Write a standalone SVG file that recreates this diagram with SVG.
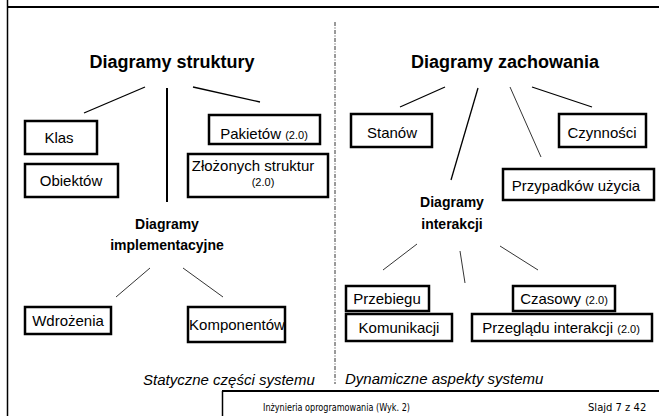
<svg xmlns="http://www.w3.org/2000/svg" width="659" height="416" viewBox="0 0 659 416">
<style>
.box{fill:#fff;stroke:#000;stroke-width:2.5}
.ln{stroke:#000;stroke-width:1.3;fill:none}
.thin{stroke:#000;stroke-width:0.8;fill:none}
.t{font-family:"Liberation Sans",Arial,sans-serif;font-size:15px;fill:#000;text-anchor:middle}
.s{font-size:11px}
.h{font-family:"Liberation Sans",Arial,sans-serif;font-size:18px;font-weight:bold;fill:#000;text-anchor:middle}
.hb{font-family:"Liberation Sans",Arial,sans-serif;font-size:14px;font-weight:bold;fill:#000;text-anchor:middle}
.it{font-family:"Liberation Sans",Arial,sans-serif;font-size:15px;font-style:italic;fill:#000}
.ft{font-family:"DejaVu Sans",Verdana,sans-serif;font-size:10px;fill:#000}
</style>
<rect width="659" height="416" fill="#fff"/>
<g id="frame">
<line x1="7.5" y1="0" x2="7.5" y2="416" stroke="#000" stroke-width="1.5"/>
<line x1="7" y1="7" x2="659" y2="7" stroke="#000" stroke-width="2.2"/>
<line x1="335" y1="22" x2="335" y2="384" stroke="#000" stroke-width="0.8" stroke-dasharray="4 1.5 1 1.5"/>
<line x1="222" y1="391" x2="659" y2="391" stroke="#000" stroke-width="2.2"/>
<line x1="222.5" y1="391" x2="222.5" y2="416" stroke="#000" stroke-width="1.5"/>
</g>
<g id="connectors">
<line class="ln" x1="84" y1="113" x2="145" y2="87"/>
<line x1="167" y1="88" x2="167" y2="202" stroke="#000" stroke-width="2"/>
<line class="ln" x1="193" y1="87" x2="260" y2="102"/>
<line class="ln" x1="445" y1="87" x2="400" y2="107"/>
<line class="ln" x1="478" y1="88" x2="451" y2="180"/>
<line class="thin" x1="510" y1="87" x2="541" y2="157"/>
<line class="ln" x1="532" y1="87" x2="592" y2="107"/>
<line class="thin" x1="150" y1="268" x2="116" y2="297"/>
<line class="thin" x1="183" y1="268" x2="223" y2="297"/>
<line class="thin" x1="417" y1="244" x2="383" y2="270"/>
<line class="thin" x1="460" y1="251" x2="465" y2="283"/>
<line class="thin" x1="500" y1="246" x2="538" y2="270"/>
</g>
<g id="diagramy-struktury"><text class="h" x="172" y="68">Diagramy struktury</text></g>
<g id="diagramy-zachowania"><text class="h" x="505" y="68">Diagramy zachowania</text></g>
<g id="klas"><rect class="box" x="25" y="121" width="72" height="33"/><text class="t" x="59" y="143">Klas</text></g>
<g id="obiektow"><rect class="box" x="25" y="164" width="93" height="33"/><text class="t" x="71" y="186">Obiektów</text></g>
<g id="pakietow"><rect class="box" x="209" y="115" width="111" height="29"/><text class="t" x="264" y="139">Pakietów <tspan class="s">(2.0)</tspan></text></g>
<g id="zlozonych"><rect class="box" x="188" y="154" width="140" height="43"/><text class="t" x="253" y="171">Złożonych struktur</text><text class="t s" x="263" y="186">(2.0)</text></g>
<g id="diagramy-implementacyjne"><text class="hb" x="167" y="229">Diagramy</text><text class="hb" x="167" y="250">implementacyjne</text></g>
<g id="wdrozenia"><rect class="box" x="25" y="307" width="86" height="27"/><text class="t" x="68" y="326">Wdrożenia</text></g>
<g id="komponentow"><rect class="box" x="188" y="307" width="97" height="35"/><text class="t" x="237" y="330">Komponentów</text></g>
<g id="stanow"><rect class="box" x="351" y="114" width="81" height="33"/><text class="t" x="392" y="138">Stanów</text></g>
<g id="czynnosci"><rect class="box" x="559" y="114" width="87" height="33"/><text class="t" x="602" y="138">Czynności</text></g>
<g id="przypadkow"><rect class="box" x="503" y="169" width="151" height="31"/><text class="t" x="576" y="191">Przypadków użycia</text></g>
<g id="diagramy-interakcji"><text class="hb" x="452" y="207">Diagramy</text><text class="hb" x="452" y="229">interakcji</text></g>
<g id="przebiegu"><rect class="box" x="346" y="286" width="83" height="25"/><text class="t" x="387" y="304">Przebiegu</text></g>
<g id="komunikacji"><rect class="box" x="346" y="314" width="106" height="27"/><text class="t" x="399" y="333">Komunikacji</text></g>
<g id="czasowy"><rect class="box" x="513" y="286" width="102" height="25"/><text class="t" x="564" y="304">Czasowy <tspan class="s">(2.0)</tspan></text></g>
<g id="przegladu"><rect class="box" x="472" y="314" width="180" height="27"/><text class="t" x="561" y="333">Przeglądu interakcji <tspan class="s">(2.0)</tspan></text></g>
<g id="labels">
<text class="it" x="143" y="385">Statyczne części systemu</text>
<text class="it" x="345" y="384">Dynamiczne aspekty systemu</text>
<text class="ft" x="263" y="411" textLength="147" lengthAdjust="spacingAndGlyphs">Inżynieria oprogramowania (Wyk. 2)</text>
<text class="ft" x="588" y="411">Slajd 7 z 42</text>
</g>
</svg>
